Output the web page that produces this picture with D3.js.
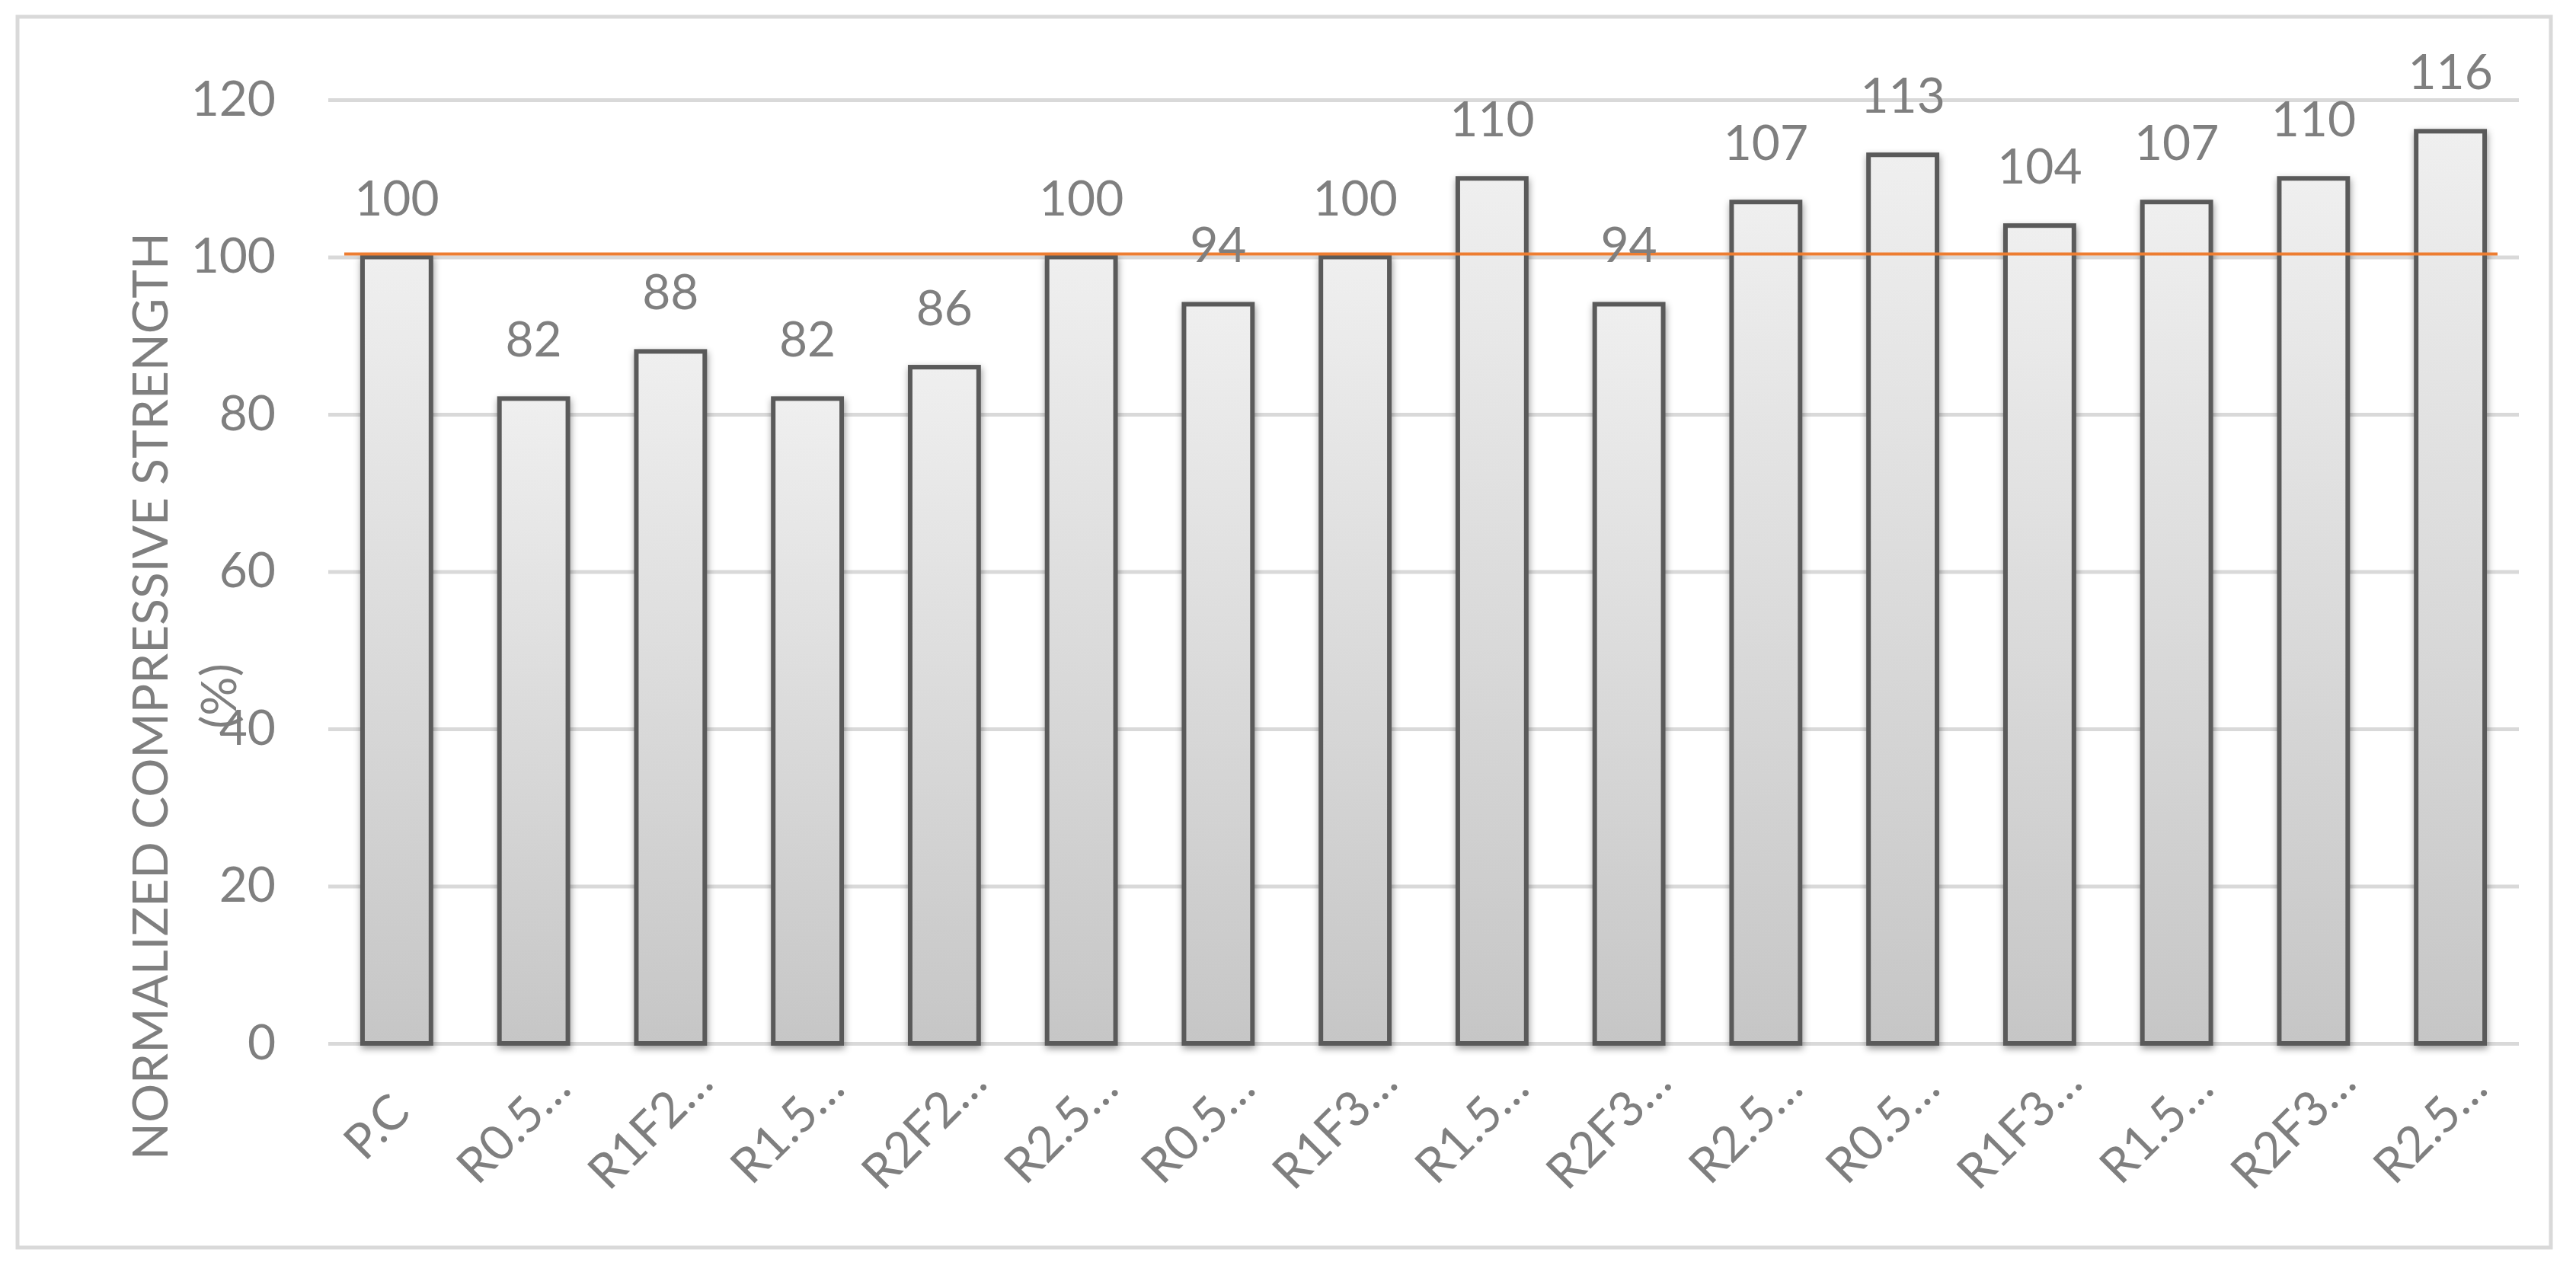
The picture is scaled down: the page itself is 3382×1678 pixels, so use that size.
<!DOCTYPE html>
<html>
<head>
<meta charset="utf-8">
<script src="https://cdn.jsdelivr.net/npm/d3@7"></script>
<style>
  html, body { margin: 0; padding: 0; background: #ffffff; }
  svg { display: block; }
  text { font-family: Lato, "Open Sans", sans-serif; fill: #7f7f7f; }
</style>
</head>
<body>
<svg id="chart" width="3382" height="1678"></svg>
<script>
// ---- data ----
const categories = ["P.C", "R0.5…", "R1F2…", "R1.5…", "R2F2…", "R2.5…", "R0.5…", "R1F3…",
                    "R1.5…", "R2F3…", "R2.5…", "R0.5…", "R1F3…", "R1.5…", "R2F3…", "R2.5…"];
const values = [100, 82, 88, 82, 86, 100, 94, 100, 110, 94, 107, 113, 104, 107, 110, 116];
const yTicks = [0, 20, 40, 60, 80, 100, 120];
const referenceValue = 100;
const yTitleLines = ["NORMALIZED COMPRESSIVE STRENGTH", "(%)"];

// ---- layout ----
const W = 3382, H = 1678;
const plot = { left: 431, right: 3307, top: 131, bottom: 1370 };
const FONT = "64px";

const svg = d3.select("#chart");

// outer frame
svg.append("rect")
  .attr("x", 23).attr("y", 22)
  .attr("width", 3326).attr("height", 1616)
  .attr("fill", "#ffffff")
  .attr("stroke", "#d9d9d9").attr("stroke-width", 5);

// defs: gradient + shadow
const defs = svg.append("defs");
const grad = defs.append("linearGradient")
  .attr("id", "barGrad").attr("x1", 0).attr("y1", 0).attr("x2", 0).attr("y2", 1);
grad.append("stop").attr("offset", "0%").attr("stop-color", "#efefef");
grad.append("stop").attr("offset", "100%").attr("stop-color", "#c6c6c6");

const filt = defs.append("filter").attr("id", "shadow")
  .attr("x", "-30%").attr("y", "-10%").attr("width", "160%").attr("height", "120%");
filt.append("feDropShadow")
  .attr("dx", 1).attr("dy", 4).attr("stdDeviation", 5)
  .attr("flood-color", "#000000").attr("flood-opacity", 0.4);

// scales
const x = d3.scaleBand()
  .domain(d3.range(categories.length))
  .range([plot.left, plot.right])
  .paddingInner(0.5)
  .paddingOuter(0.25);

const y = d3.scaleLinear()
  .domain([0, 120])
  .range([plot.bottom, plot.top]);

// y axis with gridlines
const yAxis = d3.axisLeft(y)
  .tickValues(yTicks)
  .tickSize(-(plot.right - plot.left))
  .tickPadding(69);

const yg = svg.append("g")
  .attr("transform", `translate(${plot.left},0)`)
  .call(yAxis);
yg.select(".domain").remove();
yg.selectAll(".tick line").attr("stroke", "#d9d9d9").attr("stroke-width", 5);
yg.selectAll(".tick text")
  .attr("fill", "#7f7f7f")
  .style("font-size", FONT)
  .style("font-family", "Lato, 'Open Sans', sans-serif");

// bars
svg.append("g").selectAll("rect")
  .data(values)
  .join("rect")
  .attr("x", (d, i) => x(i))
  .attr("y", d => y(d))
  .attr("width", x.bandwidth())
  .attr("height", d => y(0) - y(d))
  .attr("fill", "url(#barGrad)")
  .attr("stroke", "#5a5a5a")
  .attr("stroke-width", 6)
  .attr("filter", "url(#shadow)");

// reference line
svg.append("line")
  .attr("x1", plot.left + 21)
  .attr("x2", plot.right - 28)
  .attr("y1", y(referenceValue) - 4)
  .attr("y2", y(referenceValue) - 4)
  .attr("stroke", "#ed7d31")
  .attr("stroke-width", 4);

// data labels
svg.append("g").selectAll("text")
  .data(values)
  .join("text")
  .attr("x", (d, i) => x(i) + x.bandwidth() / 2)
  .attr("y", d => y(d) - 55)
  .attr("text-anchor", "middle")
  .style("font-size", FONT)
  .text(d => d);

// x axis labels
const xAxis = d3.axisBottom(x)
  .tickSize(0)
  .tickFormat(i => categories[i]);
const xg = svg.append("g")
  .attr("transform", `translate(0,${plot.bottom})`)
  .call(xAxis);
xg.select(".domain").remove();
xg.selectAll(".tick text")
  .attr("x", 0).attr("y", 0).attr("dy", null)
  .attr("text-anchor", "middle")
  .attr("transform", "translate(-11,125) rotate(-45)")
  .attr("fill", "#7f7f7f")
  .style("font-size", FONT)
  .style("font-family", "Lato, 'Open Sans', sans-serif");

// y title
const titleX = [220, 310];
const titleCY = 914;
yTitleLines.forEach((t, k) => {
  svg.append("text")
    .attr("transform", `translate(${titleX[k]},${titleCY}) rotate(-90)`)
    .attr("text-anchor", "middle")
    .style("font-size", FONT)
    .text(t);
});
</script>
</body>
</html>
